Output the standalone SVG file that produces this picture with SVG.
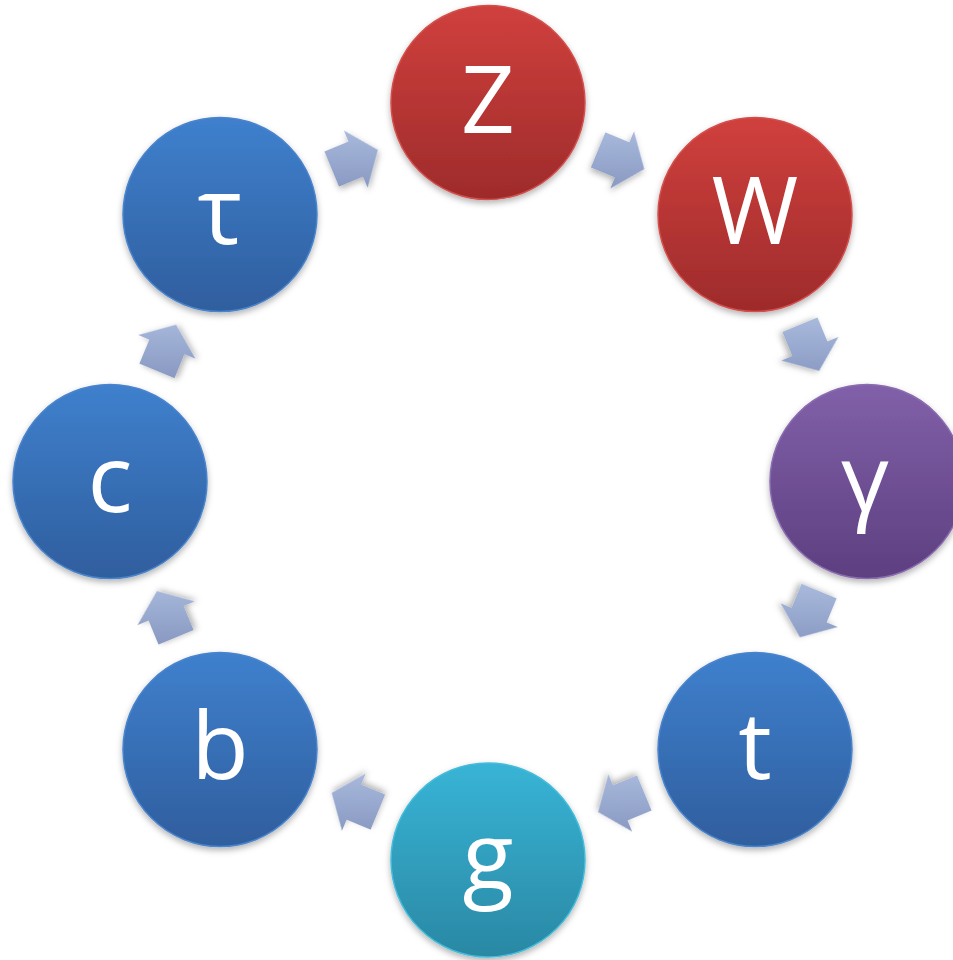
<svg xmlns="http://www.w3.org/2000/svg" xmlns:xlink="http://www.w3.org/1999/xlink" width="953" height="960" viewBox="0 0 953 960">
<defs>
<linearGradient id="gBlue" x1="0" y1="0" x2="0" y2="1"><stop offset="0" stop-color="#3f80cd"/><stop offset="1" stop-color="#2f5e9e"/></linearGradient>
<linearGradient id="gRed" x1="0" y1="0" x2="0" y2="1"><stop offset="0" stop-color="#d0403d"/><stop offset="1" stop-color="#9e2b2b"/></linearGradient>
<linearGradient id="gPurple" x1="0" y1="0" x2="0" y2="1"><stop offset="0" stop-color="#8160a9"/><stop offset="1" stop-color="#5d3f80"/></linearGradient>
<linearGradient id="gTeal" x1="0" y1="0" x2="0" y2="1"><stop offset="0" stop-color="#38b4d6"/><stop offset="1" stop-color="#2a88a4"/></linearGradient>
<linearGradient id="aBase" gradientUnits="userSpaceOnUse" x1="0" y1="-33" x2="0" y2="33"><stop offset="0" stop-color="#aabbde"/><stop offset="1" stop-color="#8797c0"/></linearGradient>
<linearGradient id="a1" href="#aBase" gradientTransform="rotate(22.5)"/>
<linearGradient id="a2" href="#aBase" gradientTransform="rotate(-22.5)"/>
<linearGradient id="a3" href="#aBase" gradientTransform="rotate(-67.5)"/>
<linearGradient id="a4" href="#aBase" gradientTransform="rotate(-112.5)"/>
<linearGradient id="a5" href="#aBase" gradientTransform="rotate(-157.5)"/>
<linearGradient id="a6" href="#aBase" gradientTransform="rotate(157.5)"/>
<linearGradient id="a7" href="#aBase" gradientTransform="rotate(112.5)"/>
<linearGradient id="a8" href="#aBase" gradientTransform="rotate(67.5)"/>
<filter id="sh" x="-30%" y="-30%" width="160%" height="170%"><feDropShadow dx="0" dy="3" stdDeviation="3" flood-color="#000" flood-opacity="0.3"/></filter>
<polygon id="arrow" points="-25,-19 1,-19 1,-31 25,0 1,31 1,19 -25,19"/>
</defs>
<style>
.node circle{stroke-width:1.5;filter:url(#sh)}
.blue circle{fill:url(#gBlue);stroke:#4a84cc}
.red circle{fill:url(#gRed);stroke:#d2504d}
.purple circle{fill:url(#gPurple);stroke:#8a6cb0}
.teal circle{fill:url(#gTeal);stroke:#45bcda}
.node text{font-family:"Open Sans","Noto Sans","DejaVu Sans",sans-serif;font-size:94px;fill:#fff;text-anchor:middle}
#connectors use{filter:url(#sh)}
</style>
<rect width="953" height="960" fill="#fff"/>
<g id="connectors">
<use href="#arrow" transform="translate(354.8,159.5) rotate(-22.5)" fill="url(#a1)"/>
<use href="#arrow" transform="translate(621.2,159.5) rotate(22.5)" fill="url(#a2)"/>
<use href="#arrow" transform="translate(809.5,347.8) rotate(67.5)" fill="url(#a3)"/>
<use href="#arrow" transform="translate(809.5,614.2) rotate(112.5)" fill="url(#a4)"/>
<use href="#arrow" transform="translate(621.2,802.5) rotate(157.5)" fill="url(#a5)"/>
<use href="#arrow" transform="translate(354.8,802.5) rotate(-157.5)" fill="url(#a6)"/>
<use href="#arrow" transform="translate(166.5,614.2) rotate(-112.5)" fill="url(#a7)"/>
<use href="#arrow" transform="translate(166.5,347.8) rotate(-67.5)" fill="url(#a8)"/>
</g>
<g id="node-Z" class="node red"><circle cx="488" cy="102.5" r="97"/><text x="488" y="133">Z</text></g>
<g id="node-W" class="node red"><circle cx="755" cy="214.5" r="97"/><text x="755" y="244">W</text></g>
<g id="node-gamma" class="node purple"><circle cx="867" cy="481.5" r="97"/><text x="865" y="512">γ</text></g>
<g id="node-t" class="node blue"><circle cx="755" cy="749.5" r="97"/><text x="755" y="779">t</text></g>
<g id="node-g" class="node teal"><circle cx="488" cy="860" r="97"/><text x="488" y="890">g</text></g>
<g id="node-b" class="node blue"><circle cx="220" cy="749.5" r="97"/><text x="220" y="779">b</text></g>
<g id="node-c" class="node blue"><circle cx="110" cy="481.5" r="97"/><text x="110" y="512">c</text></g>
<g id="node-tau" class="node blue"><circle cx="220" cy="214.5" r="97"/><text x="220" y="244">τ</text></g>
</svg>
